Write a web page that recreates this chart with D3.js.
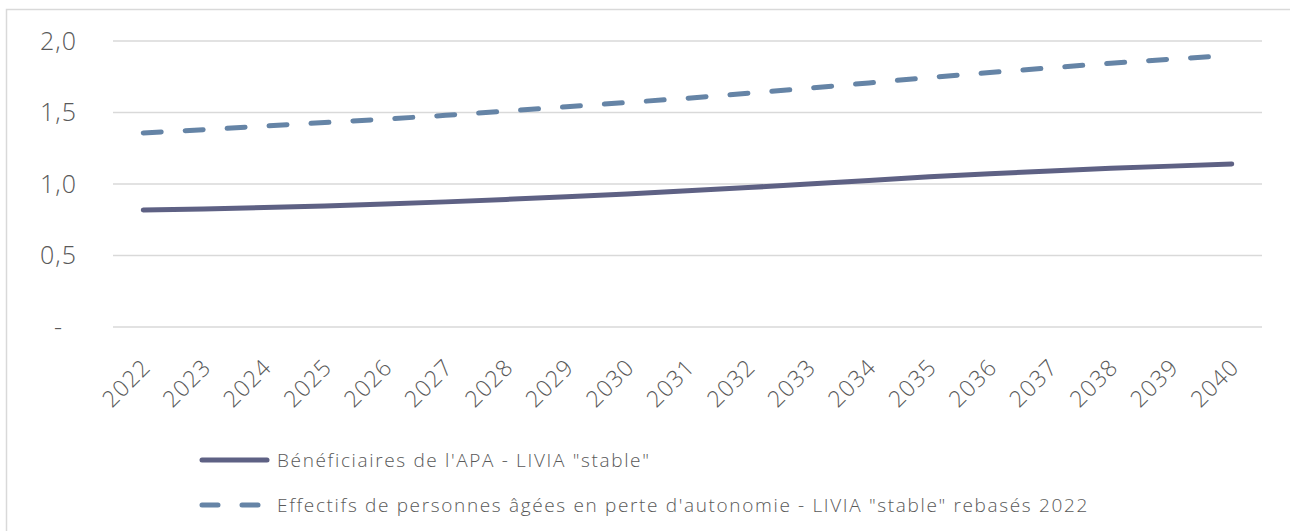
<!DOCTYPE html>
<html>
<head>
<meta charset="utf-8">
<script src="https://cdn.jsdelivr.net/npm/d3@7"></script>
<style>
  html, body { margin: 0; padding: 0; background: #fff; }
  svg text { font-family: "Open Sans", Lato, sans-serif; font-weight: 300; fill: #595959; }
</style>
</head>
<body>
<div id="chart"></div>
<script>
// years on the x axis
const years = ["2022", "2023", "2024", "2025", "2026", "2027", "2028", "2029", "2030", "2031",
  "2032", "2033", "2034", "2035", "2036", "2037", "2038", "2039", "2040"];

// Bénéficiaires de l'APA - LIVIA "stable" (millions)
const apaValues = [0.818, 0.826, 0.836, 0.847, 0.86, 0.875, 0.892, 0.91, 0.93, 0.953,
  0.975, 1.0, 1.025, 1.05, 1.071, 1.091, 1.11, 1.125, 1.14];

// Effectifs de personnes âgées en perte d'autonomie - rebasés 2022
const autonomieValues = [1.357, 1.38, 1.405, 1.43, 1.454, 1.48, 1.51, 1.54, 1.57, 1.60,
  1.635, 1.67, 1.707, 1.745, 1.78, 1.812, 1.845, 1.873, 1.90];

const yTicks = [0, 0.5, 1.0, 1.5, 2.0];

const seriesNames = [
  "Bénéficiaires de l'APA - LIVIA \"stable\"",
  "Effectifs de personnes âgées en perte d'autonomie - LIVIA \"stable\" rebasés 2022"
];

const W = 1290, H = 531;
const plot = {left: 113, right: 1262, top: 41, bottom: 327};

const svg = d3.select("#chart")
  .append("svg")
  .attr("width", W)
  .attr("height", H);

// outer frame of the chart area (runs off the right and bottom edges)
svg.append("rect")
  .attr("x", 6.5).attr("y", 9.5)
  .attr("width", 1300).attr("height", 600)
  .attr("fill", "none")
  .attr("stroke", "#d9d9d9")
  .attr("stroke-width", 1.5);

const x = d3.scaleBand()
  .domain(years)
  .range([plot.left, plot.right])
  .padding(0);

const y = d3.scaleLinear()
  .domain([0, 2])
  .range([plot.bottom, plot.top]);

const fr = d3.formatLocale({decimal: ",", thousands: " ", grouping: [3], currency: ["", " €"]});
const fmt = d => d === 0 ? "-" : fr.format(".1f")(d);

// horizontal grid lines
svg.append("g")
  .selectAll("line")
  .data(yTicks)
  .join("line")
  .attr("x1", plot.left)
  .attr("x2", plot.right)
  .attr("y1", d => y(d))
  .attr("y2", d => y(d))
  .attr("stroke", "#d9d9d9")
  .attr("stroke-width", 1.5);

// y labels ("-" for zero, like the accounting format)
svg.append("g")
  .selectAll("text")
  .data(yTicks)
  .join("text")
  .attr("x", d => d === 0 ? 63 : 77)
  .attr("y", d => y(d))
  .attr("dy", "0.35em")
  .attr("text-anchor", "end")
  .style("font-size", "25px")
  .style("letter-spacing", "1px")
  .text(fmt);

// x labels, rotated
const cx = d => x(d) + x.bandwidth() / 2;
svg.append("g")
  .selectAll("text")
  .data(years)
  .join("text")
  .attr("transform", d => `translate(${cx(d) + 3},${plot.bottom + 36}) rotate(-45)`)
  .attr("text-anchor", "end")
  .attr("dy", "0.35em")
  .style("font-size", "23px")
  .style("letter-spacing", "1px")
  .text(d => d);

const line = d3.line()
  .x((d, i) => cx(years[i]))
  .y(d => y(d));

svg.append("path")
  .datum(apaValues)
  .attr("d", line)
  .attr("fill", "none")
  .attr("stroke", "#5e6184")
  .attr("stroke-width", 5)
  .attr("stroke-linecap", "round")
  .attr("stroke-linejoin", "round");

svg.append("path")
  .datum(autonomieValues)
  .attr("d", line)
  .attr("fill", "none")
  .attr("stroke", "#6584a6")
  .attr("stroke-width", 5)
  .attr("stroke-linecap", "round")
  .attr("stroke-dasharray", "18,24");

// legend
const legend = svg.append("g");
const legendRows = [
  {name: seriesNames[0], color: "#5e6184", dash: null, y: 460},
  {name: seriesNames[1], color: "#6584a6", dash: "16,24", y: 505}
];
legendRows.forEach(r => {
  legend.append("line")
    .attr("x1", 202).attr("x2", 267)
    .attr("y1", r.y).attr("y2", r.y)
    .attr("stroke", r.color)
    .attr("stroke-width", 5)
    .attr("stroke-linecap", "round")
    .attr("stroke-dasharray", r.dash);
  legend.append("text")
    .attr("x", 277)
    .attr("y", r.y)
    .attr("dy", "0.35em")
    .style("font-size", "19px")
    .style("letter-spacing", "1.65px")
    .text(r.name);
});
</script>
</body>
</html>
